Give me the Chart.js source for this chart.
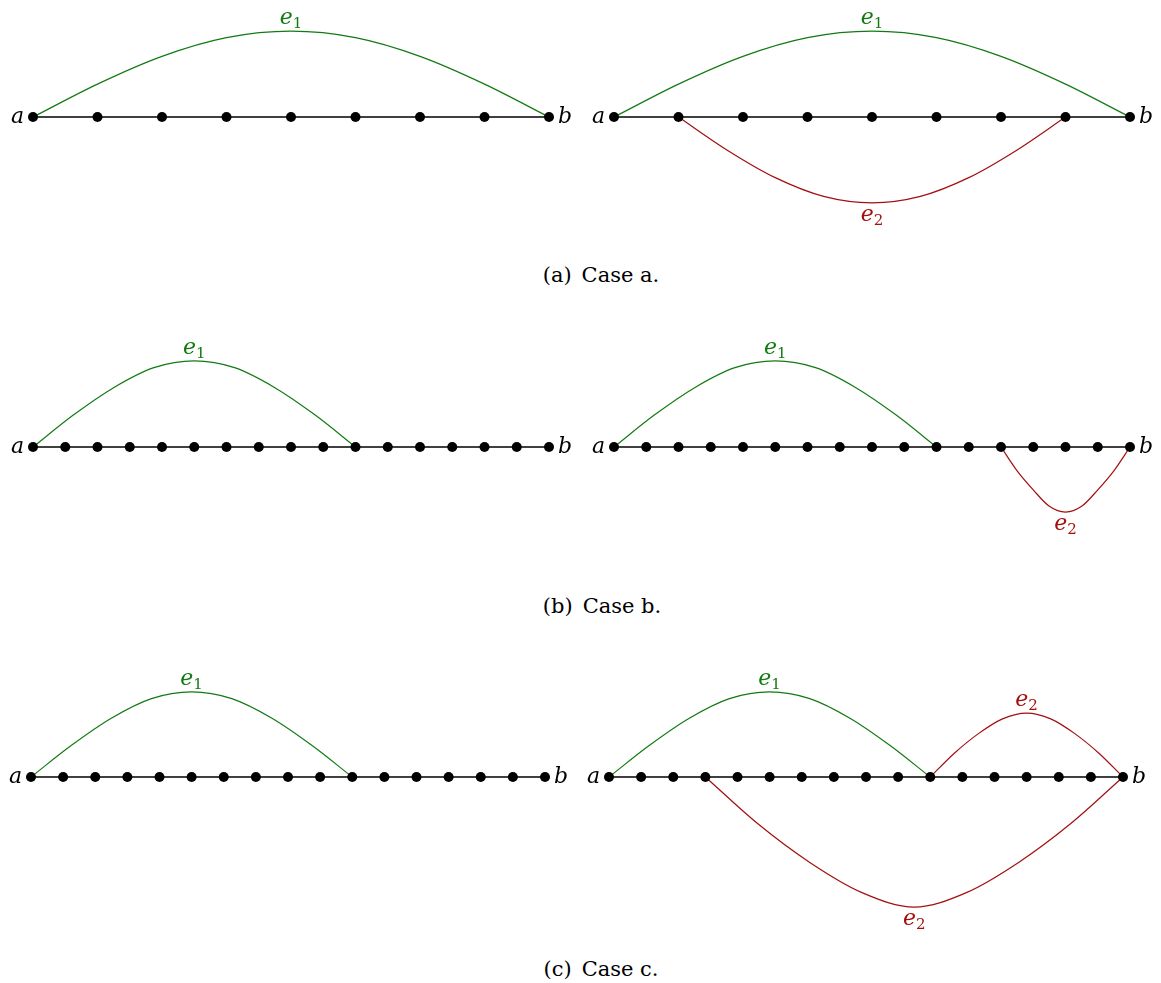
<!doctype html>
<html lang="en">
<head>
<meta charset="UTF-8" />
<title>Case a, b, c</title>
<style>
  body { margin: 0; background: #fff; }
  #page { position: relative; width: 1161px; height: 983px; background: #fff; overflow: hidden; }
  .panel { position: absolute; }
  .panel canvas { display: block; }
  .caption { position: absolute; transform: translateX(-50%); white-space: nowrap;
             font-family: "DejaVu Serif", "Liberation Serif", serif; font-size: 21px; color: #000; }
  .caption span { margin-left: 10px; }
</style>
</head>
<body>
<div id="page">
  <div class="panel" id="pA1"><canvas id="cA1"></canvas></div>
  <div class="panel" id="pA2"><canvas id="cA2"></canvas></div>
  <div class="caption" style="left: 601px; top: 263px">(a)<span>Case a.</span></div>
  <div class="panel" id="pB1"><canvas id="cB1"></canvas></div>
  <div class="panel" id="pB2"><canvas id="cB2"></canvas></div>
  <div class="caption" style="left: 602px; top: 594px">(b)<span>Case b.</span></div>
  <div class="panel" id="pC1"><canvas id="cC1"></canvas></div>
  <div class="panel" id="pC2"><canvas id="cC2"></canvas></div>
  <div class="caption" style="left: 601px; top: 957px">(c)<span>Case c.</span></div>
</div>

<script src="https://cdn.jsdelivr.net/npm/chart.js"></script>
<script>
// path nodes (index along the path a .. b)
const nodesCaseA = [0, 1, 2, 3, 4, 5, 6, 7, 8];
const nodesCaseBC = [0, 1, 2, 3, 4, 5, 6, 7, 8, 9, 10, 11, 12, 13, 14, 15, 16];

// edges: [node position, height] in node-spacing units (up = positive)
const caseALeftE1 = [[0, 0], [1, 0.51], [2, 0.94], [3, 1.23], [4, 1.33], [5, 1.23], [6, 0.94], [7, 0.51], [8, 0]];
const caseARightE1 = [[0, 0], [1, 0.51], [2, 0.94], [3, 1.23], [4, 1.33], [5, 1.23], [6, 0.94], [7, 0.51], [8, 0]];
const caseARightE2 = [[1, 0], [1.75, -0.51], [2.5, -0.94], [3.25, -1.23], [4, -1.33], [4.75, -1.23], [5.5, -0.94], [6.25, -0.51], [7, 0]];

const caseBLeftE1 = [[0, 0], [1.25, 0.99], [2.5, 1.84], [3.75, 2.46], [5, 2.67], [6.25, 2.46], [7.5, 1.84], [8.75, 0.99], [10, 0]];
const caseBRightE1 = [[0, 0], [1.25, 0.99], [2.5, 1.84], [3.75, 2.46], [5, 2.67], [6.25, 2.46], [7.5, 1.84], [8.75, 0.99], [10, 0]];
const caseBRightE2 = [[12, 0], [12.5, -0.74], [13, -1.33], [13.5, -1.84], [14, -2.02], [14.5, -1.84], [15, -1.33], [15.5, -0.74], [16, 0]];

const caseCLeftE1 = [[0, 0], [1.25, 0.98], [2.5, 1.83], [3.75, 2.44], [5, 2.65], [6.25, 2.44], [7.5, 1.83], [8.75, 0.98], [10, 0]];
const caseCRightE1 = [[0, 0], [1.25, 0.98], [2.5, 1.83], [3.75, 2.44], [5, 2.65], [6.25, 2.44], [7.5, 1.83], [8.75, 0.98], [10, 0]];
const caseCRightE2Top = [[10, 0], [10.75, 0.74], [11.5, 1.35], [12.25, 1.81], [13, 1.99], [13.75, 1.81], [14.5, 1.35], [15.25, 0.74], [16, 0]];
const caseCRightE2Bottom = [[3, 0], [4.625, -1.45], [6.25, -2.66], [7.875, -3.6], [9.5, -4.05], [11.125, -3.6], [12.75, -2.66], [14.375, -1.45], [16, 0]];

const endLabels = ['a', 'b'];
const GREEN = '#137a13';
const RED = '#a30f0f';

const panels = [
  { id: 'A1', left: 0, top: 0, w: 580, h: 245, ax: 33, bx: 549, ay: 117,
    nodes: nodesCaseA, edges: [[caseALeftE1, GREEN, '1']] },
  { id: 'A2', left: 580, top: 0, w: 581, h: 245, ax: 614, bx: 1130, ay: 117,
    nodes: nodesCaseA, edges: [[caseARightE1, GREEN, '1'], [caseARightE2, RED, '2']] },
  { id: 'B1', left: 0, top: 320, w: 580, h: 240, ax: 33, bx: 549, ay: 447,
    nodes: nodesCaseBC, edges: [[caseBLeftE1, GREEN, '1']] },
  { id: 'B2', left: 580, top: 320, w: 581, h: 240, ax: 614, bx: 1130, ay: 447,
    nodes: nodesCaseBC, edges: [[caseBRightE1, GREEN, '1'], [caseBRightE2, RED, '2']] },
  { id: 'C1', left: 0, top: 650, w: 580, h: 295, ax: 31, bx: 545, ay: 777,
    nodes: nodesCaseBC, edges: [[caseCLeftE1, GREEN, '1']] },
  { id: 'C2', left: 580, top: 650, w: 581, h: 295, ax: 609, bx: 1123, ay: 777,
    nodes: nodesCaseBC,
    edges: [[caseCRightE1, GREEN, '1'], [caseCRightE2Top, RED, '2'], [caseCRightE2Bottom, RED, '2']] }
];

const MATH_FONT = 'italic 22px "DejaVu Serif", "Liberation Serif", serif';
const SUB_FONT = '15px "DejaVu Serif", "Liberation Serif", serif';

// draws a / b at the path ends and e_i at each edge apex
const graphText = {
  id: 'graphText',
  afterDatasetsDraw(chart) {
    const { ctx } = chart;
    const x = chart.scales.x, y = chart.scales.y;
    const nodes = chart.data.datasets[0].data;
    const first = nodes[0], last = nodes[nodes.length - 1];
    ctx.save();
    ctx.textBaseline = 'alphabetic';
    ctx.fillStyle = '#000';
    ctx.font = MATH_FONT;
    ctx.textAlign = 'right';
    ctx.fillText(endLabels[0], x.getPixelForValue(first.x) - 9, y.getPixelForValue(first.y) + 6);
    ctx.textAlign = 'left';
    ctx.fillText(endLabels[1], x.getPixelForValue(last.x) + 9, y.getPixelForValue(last.y) + 6);

    chart.data.datasets.slice(1).forEach((ds) => {
      const apex = ds.data.reduce((m, p) => (Math.abs(p.y) > Math.abs(m.y) ? p : m));
      const px = x.getPixelForValue(apex.x);
      const py = y.getPixelForValue(apex.y);
      ctx.fillStyle = ds.borderColor;
      ctx.font = MATH_FONT;
      const w1 = ctx.measureText('e').width;
      ctx.font = SUB_FONT;
      const w2 = ctx.measureText(ds.sub).width;
      const left = px - (w1 + w2) / 2;
      const base = apex.y > 0 ? py - 7 : py + 18;
      ctx.textAlign = 'left';
      ctx.font = MATH_FONT;
      ctx.fillText('e', left, base);
      ctx.font = SUB_FONT;
      ctx.fillText(ds.sub, left + w1, base + 4);
    });
    ctx.restore();
  }
};

panels.forEach((p) => {
  const wrap = document.getElementById('p' + p.id);
  wrap.style.left = p.left + 'px';
  wrap.style.top = p.top + 'px';
  const canvas = document.getElementById('c' + p.id);
  canvas.width = p.w;
  canvas.height = p.h;

  const sp = (p.bx - p.ax) / (p.nodes.length - 1);
  const xMin = -(p.ax - p.left) / sp;
  const xMax = (p.left + p.w - p.ax) / sp;
  const yMax = (p.ay - p.top) / sp;
  const yMin = -(p.top + p.h - p.ay) / sp;

  const datasets = [{
    data: p.nodes.map((n) => ({ x: n, y: 0 })),
    showLine: true,
    borderColor: '#000',
    borderWidth: 1.3,
    pointRadius: 5,
    pointBackgroundColor: '#000',
    pointBorderWidth: 0,
    clip: false
  }];
  p.edges.forEach(([pts, color, sub]) => {
    datasets.push({
      data: pts.map(([nx, ny]) => ({ x: nx, y: ny })),
      showLine: true,
      borderColor: color,
      borderWidth: 1.2,
      pointRadius: 0,
      cubicInterpolationMode: 'monotone',
      clip: false,
      sub
    });
  });

  new Chart(canvas, {
    type: 'scatter',
    data: { datasets },
    options: {
      responsive: false,
      animation: false,
      events: [],
      layout: { padding: 0, autoPadding: false },
      plugins: { legend: { display: false }, tooltip: { enabled: false } },
      scales: {
        x: { type: 'linear', display: false, min: xMin, max: xMax },
        y: { type: 'linear', display: false, min: yMin, max: yMax }
      }
    },
    plugins: [graphText]
  });
});
</script>
</body>
</html>
